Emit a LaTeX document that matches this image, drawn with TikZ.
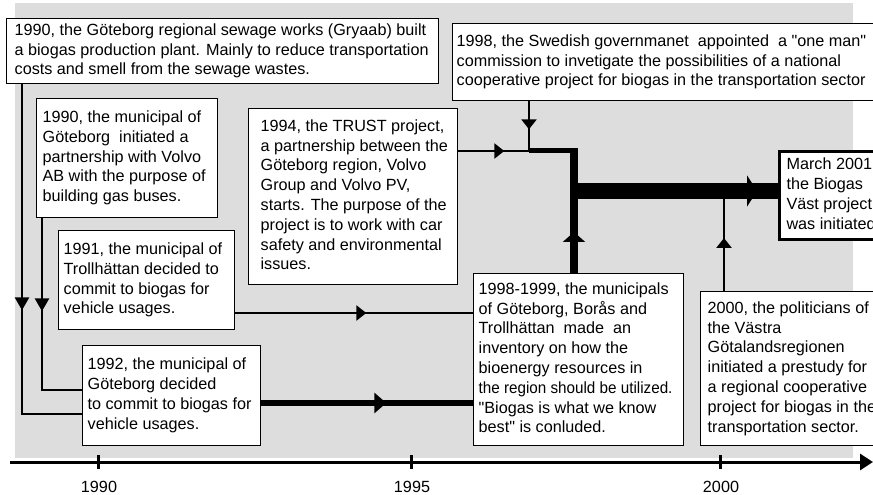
\documentclass[tikz,border=0pt]{standalone}
\usepackage{fontspec}
\setmainfont{Liberation Sans}[Ligatures=TeXOff]
\usetikzlibrary{arrows.meta,decorations.markings}
\definecolor{panel}{RGB}{221,221,221}
\newcommand\boxfont{\fontsize{16.2bp}{19.8bp}\selectfont}
% text block of a given total width, indented by a left padding
\newcommand\boxlines[3]{\makebox[#1][l]{\hspace*{#2}\begin{tabular}{@{}l@{}}#3\end{tabular}}}

\tikzset{
  event/.style={draw=black, fill=white, line width=1.3bp, anchor=north west, inner sep=0pt, font=\boxfont},
  link/.style={line width=2.6bp},
  tipat/.style n args={3}{postaction={decorate, decoration={markings,
      mark=at position #1 with {\arrow{Triangle[length=#2,width=#3]}}}}},
  tick/.style={line width=3bp},
  yearlabel/.style={font=\boxfont, inner sep=0pt},
}

\begin{document}
\begin{tikzpicture}[x=1bp,y=-1bp]
\useasboundingbox (0,0) rectangle (873,495);
\fill[panel] (15,3) rectangle (853,458);

% events
\node[event, minimum height=65bp] (g1) at (6,18) {\boxlines{432bp}{8bp}{%
1990, the Göteborg regional sewage works (Gryaab) built\\
a biogas production plant. Mainly to reduce transportation\\
costs and smell from the sewage wastes.}};

\node[event, minimum height=77bp] (sw) at (452,23) {\boxlines{430bp}{4bp}{%
1998, the Swedish governmanet\ \ appointed\ \ a "one man"\\
commission to invetigate the possibilities of a national\\
cooperative project for biogas in the transportation sector}};

\node[event, minimum height=119bp] (vo) at (36,98) {\boxlines{181bp}{6bp}{%
1990, the municipal of\\
Göteborg\ \ initiated a\\
partnership with Volvo\\
AB with the purpose of\\
building gas buses.}};

\node[event, minimum height=99bp] (tr) at (58,230) {\boxlines{176bp}{5bp}{%
1991, the municipal of\\
Trollhättan decided to\\
commit to biogas for\\
vehicle usages.}};

\node[event, minimum height=100bp] (g92) at (82,345) {\boxlines{178bp}{5bp}{%
1992, the municipal of\\
Göteborg decided\\
to commit to biogas for\\
vehicle usages.}};

\node[event, minimum height=176bp] (trust) at (248,108) {\boxlines{209bp}{12bp}{%
1994, the TRUST project,\\
a partnership between the\\
Göteborg region, Volvo\\
Group and Volvo PV,\\
starts. The purpose of the\\
project is to work with car\\
safety and environmental\\
issues.}};

\node[event, minimum height=172bp] (inv) at (473,273) {\boxlines{210bp}{5bp}{%
1998-1999, the municipals\\
of Göteborg, Borås and\\
Trollhättan\ \ made\ \ an\\
inventory on how the\\
bioenergy resources in\\
\scalebox{0.94}[1]{the region should be utilized.}\\
"Biogas is what we know\\
best" is conluded.}};

\node[event, minimum height=154bp] (vg) at (700,291) {\boxlines{190bp}{7bp}{%
2000, the politicians of\\
the Västra\\
Götalandsregionen\\
initiated a prestudy for\\
a regional cooperative\\
project for biogas in the\\
transportation sector.}};

\node[event, line width=3bp, minimum height=88bp] (bv) at (778,150) {\boxlines{110bp}{7bp}{%
March 2001\\
the Biogas\\
Väst project\\
was initiated}};

% bends and junctions of the connectors
\coordinate (aTurn) at (22,414);
\coordinate (bTurn) at (42,390);
\coordinate (cRow) at (0,313);
\coordinate (dRow) at (0,403);
\coordinate (j1) at (529,151);
\coordinate (j2) at (574,151);
\coordinate (j2top) at (574,148.5);
\coordinate (j3) at (574,191);
\coordinate (j4) at (724,199);

% connectors
\draw[link, tipat={226bp}{13bp}{14bp}] (g1.south -| aTurn) -- (aTurn) -- (aTurn -| g92.west);
\draw[link, tipat={93bp}{13bp}{14bp}] (vo.south -| bTurn) -- (bTurn) -- (bTurn -| g92.west);
\draw[link, tipat={131bp}{10bp}{15bp}] (tr.east |- cRow) -- (cRow -| inv.west);
\draw[line width=6.5bp, tipat={125bp}{12bp}{20bp}] (g92.east |- dRow) -- (dRow -| inv.west);
\draw[link, tipat={46bp}{10bp}{15bp}] (trust.east |- j1) -- (j1);
\draw[link, tipat={28bp}{10bp}{15bp}] (sw.south -| j1) -- (j1);
\draw[line width=5bp] (j1) -- (j2);
\draw[line width=8bp, tipat={41bp}{10bp}{22bp}] (inv.north -| j2) -- (j2top);
\draw[line width=16bp, tipat={183bp}{10bp}{31bp}] (j3) -- (j3 -| bv.west);
\draw[link, tipat={53bp}{10bp}{15bp}] (vg.north -| j4) -- (j4);

% time axis
\coordinate (axL) at (10,462);
\coordinate (axR) at (873,462);
\draw[line width=3bp, -{Triangle[length=13bp,width=16bp]}] (axL) -- (axR);
\foreach \x/\yr in {98/1990, 411/1995, 720/2000} {
  \draw[tick] (\x,455) -- (\x,469);
  \node[yearlabel] (yr\yr) at (\x+1,487) {\yr};
}
\end{tikzpicture}
\end{document}
